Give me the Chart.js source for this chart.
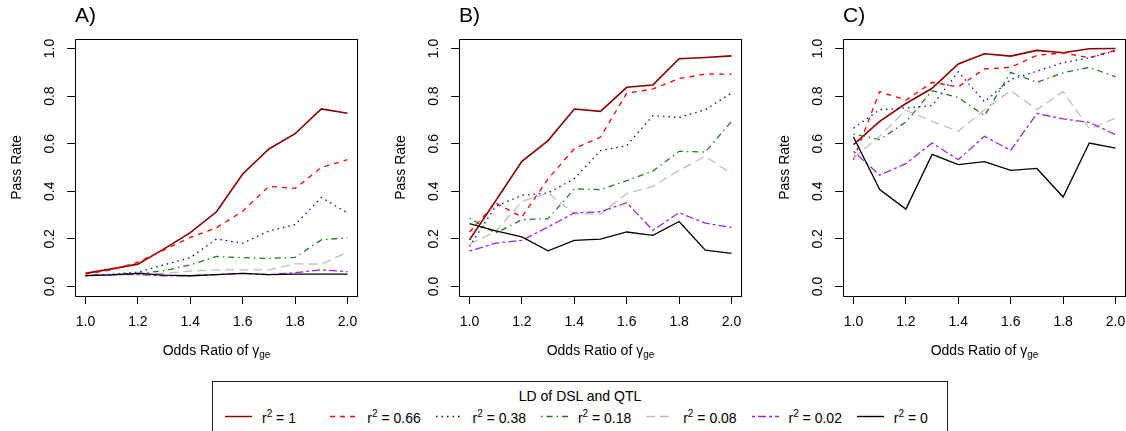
<!DOCTYPE html>
<html>
<head>
<meta charset="utf-8">
<script src="https://cdn.jsdelivr.net/npm/chart.js@4.4.1/dist/chart.umd.min.js"></script>
<style>
  html, body { margin: 0; padding: 0; background: #fff; }
  body { width: 1126px; height: 431px; position: relative; overflow: hidden;
         font-family: "Liberation Sans", Arial, sans-serif; color: #000; }
  .panel { position: absolute; top: 0; width: 360px; height: 370px; }
  .letter { position: absolute; top: 3px; font-size: 21px; line-height: 24px; }
  .xtitle { position: absolute; top: 342px; width: 283px; text-align: center; font-size: 14px; line-height: 16px; white-space: nowrap; }
  .xtitle sub { font-size: 10px; vertical-align: -3px; line-height: 0; }
  #legend { position: absolute; left: 212px; top: 381px; width: 736px; height: 70px;
            border: 1px solid #222; box-sizing: border-box; }
  #legend .ttl { position: absolute; top: 6px; left: 0; width: 100%; text-align: center; font-size: 14px; line-height: 16px; }
  .item { position: absolute; top: 26px; height: 20px; }
  .item svg { position: absolute; left: 0; top: 0; }
  .item span { position: absolute; left: 37px; top: 2px; font-size: 14px; line-height: 16px; white-space: nowrap; }
  .item sup { font-size: 10px; vertical-align: 6px; line-height: 0; }
</style>
</head>
<body>

<div class="panel" style="left:0"><canvas id="chartA"></canvas></div>
<div class="panel" style="left:384px"><canvas id="chartB"></canvas></div>
<div class="panel" style="left:768px"><canvas id="chartC"></canvas></div>

<div class="letter" style="left:75px">A)</div>
<div class="letter" style="left:459px">B)</div>
<div class="letter" style="left:843px">C)</div>

<div class="xtitle" style="left:75px">Odds Ratio of γ<sub>ge</sub></div>
<div class="xtitle" style="left:459px">Odds Ratio of γ<sub>ge</sub></div>
<div class="xtitle" style="left:843px">Odds Ratio of γ<sub>ge</sub></div>

<div id="legend"><div class="ttl">LD of DSL and QTL</div></div>

<script>
// odds ratio of gamma_ge
const oddsRatio = [1.0, 1.1, 1.2, 1.3, 1.4, 1.5, 1.6, 1.7, 1.8, 1.9, 2.0];
const yTicks = [0, 0.2, 0.4, 0.6, 0.8, 1.0];
const xTicks = [1.0, 1.2, 1.4, 1.6, 1.8, 2.0];

const ldLabels = ['1', '0.66', '0.38', '0.18', '0.08', '0.02', '0'];

// panel A
const aR1   = [0.055, 0.074, 0.094, 0.158, 0.226, 0.314, 0.473, 0.578, 0.642, 0.746, 0.728];
const aR066 = [0.052, 0.070, 0.102, 0.154, 0.206, 0.247, 0.316, 0.421, 0.412, 0.500, 0.533];
const aR038 = [0.045, 0.052, 0.060, 0.091, 0.121, 0.200, 0.182, 0.233, 0.260, 0.374, 0.309];
const aR018 = [0.046, 0.050, 0.055, 0.066, 0.091, 0.126, 0.121, 0.118, 0.122, 0.196, 0.205];
const aR008 = [0.045, 0.050, 0.055, 0.055, 0.065, 0.070, 0.070, 0.070, 0.095, 0.094, 0.144];
const aR002 = [0.045, 0.050, 0.050, 0.045, 0.045, 0.050, 0.055, 0.050, 0.058, 0.070, 0.062];
const aR0   = [0.046, 0.049, 0.055, 0.048, 0.045, 0.050, 0.055, 0.050, 0.052, 0.052, 0.052];

// panel B
const bR1   = [0.196, 0.360, 0.526, 0.613, 0.746, 0.736, 0.837, 0.847, 0.957, 0.962, 0.969];
const bR066 = [0.229, 0.351, 0.292, 0.453, 0.579, 0.628, 0.812, 0.830, 0.874, 0.892, 0.892];
const bR038 = [0.168, 0.337, 0.383, 0.393, 0.453, 0.571, 0.592, 0.718, 0.710, 0.743, 0.813];
const bR018 = [0.288, 0.224, 0.281, 0.285, 0.410, 0.407, 0.445, 0.485, 0.568, 0.565, 0.694];
const bR008 = [0.178, 0.231, 0.358, 0.393, 0.306, 0.304, 0.390, 0.421, 0.488, 0.547, 0.474];
const bR002 = [0.149, 0.182, 0.194, 0.250, 0.309, 0.314, 0.352, 0.236, 0.310, 0.266, 0.248];
const bR0   = [0.264, 0.234, 0.208, 0.150, 0.194, 0.199, 0.229, 0.215, 0.273, 0.153, 0.139];

// panel C
const cR1   = [0.596, 0.694, 0.769, 0.833, 0.935, 0.978, 0.968, 0.992, 0.982, 0.999, 1.000];
const cR066 = [0.533, 0.819, 0.783, 0.858, 0.839, 0.914, 0.921, 0.971, 0.982, 0.961, 0.993];
const cR038 = [0.665, 0.743, 0.750, 0.760, 0.902, 0.776, 0.870, 0.905, 0.940, 0.961, 0.989];
const cR018 = [0.641, 0.617, 0.691, 0.823, 0.794, 0.718, 0.900, 0.858, 0.898, 0.921, 0.881];
const cR008 = [0.540, 0.631, 0.741, 0.694, 0.652, 0.743, 0.823, 0.743, 0.819, 0.663, 0.707];
const cR002 = [0.568, 0.468, 0.516, 0.603, 0.533, 0.631, 0.572, 0.727, 0.704, 0.690, 0.638];
const cR0   = [0.628, 0.407, 0.325, 0.555, 0.512, 0.525, 0.488, 0.496, 0.376, 0.603, 0.581];

// line look for each r^2 level, same order as ldLabels
const lineColors = ['#8B0000', '#FF0000', '#0000CD', '#1E7B1E', '#BEBEBE', '#A020F0', '#000000'];
const lineDashes = [[], [5, 5], [1.5, 4], [1.5, 4, 6, 4], [9, 5], [3, 3, 8, 3], []];

Chart.defaults.font.family = '"Liberation Sans", Arial, sans-serif';
Chart.defaults.font.size = 14;
Chart.defaults.color = '#000';

// R style box round the plot region
const boxPlugin = {
  id: 'box',
  afterDraw(chart) {
    const { ctx, chartArea: a } = chart;
    ctx.save();
    ctx.strokeStyle = '#000';
    ctx.lineWidth = 1;
    ctx.strokeRect(Math.round(a.left) + 0.5, Math.round(a.top) + 0.5,
                   Math.round(a.right - a.left) - 1, Math.round(a.bottom - a.top));
    ctx.restore();
  }
};

// no extra room for overhanging tick labels, plot region stays fixed
function noPad(s) {
  s.paddingLeft = 0; s.paddingRight = 0; s.paddingTop = 0; s.paddingBottom = 0;
}

function makePanel(id, series) {
  const datasets = series.map((vals, i) => ({
    label: 'r² = ' + ldLabels[i],
    data: vals.map((v, j) => ({ x: oddsRatio[j], y: v })),
    borderColor: lineColors[i],
    borderDash: lineDashes[i],
    borderWidth: i == 0 ? 1.6 : 1.3,
    pointRadius: 0,
    tension: 0,
    fill: false
  }));

  return new Chart(document.getElementById(id), {
    type: 'line',
    data: { datasets: datasets.reverse() },
    options: {
      responsive: false,
      animation: false,
      events: [],
      layout: { padding: { left: 0, top: 39, right: 2, bottom: 0 } },
      plugins: { legend: { display: false }, tooltip: { enabled: false }, title: { display: false } },
      scales: {
        x: {
          type: 'linear',
          min: 0.96, max: 2.04,
          afterBuildTicks: (s) => { s.ticks = xTicks.map(v => ({ value: v })); },
          afterFit: (s) => { s.height = 74; noPad(s); },
          grid: { drawOnChartArea: false, drawTicks: true, tickLength: 8, color: '#000' },
          border: { display: false },
          ticks: { autoSkip: false, maxRotation: 0, padding: 10, color: '#000',
                   callback: (v) => Number(v).toFixed(1) }
        },
        y: {
          type: 'linear',
          min: -0.04, max: 1.04,
          afterBuildTicks: (s) => { s.ticks = yTicks.map(v => ({ value: v })); },
          afterFit: (s) => { s.width = 75; noPad(s); },
          grid: { drawOnChartArea: false, drawTicks: true, tickLength: 8, color: '#000' },
          border: { display: false },
          ticks: { autoSkip: false, minRotation: 90, maxRotation: 90, crossAlign: 'center',
                   padding: 7, color: '#000', callback: (v) => Number(v).toFixed(1) },
          title: { display: true, text: 'Pass Rate', font: { size: 14 }, padding: { top: 9, bottom: 0 } }
        }
      }
    },
    plugins: [boxPlugin]
  });
}

for (const c of ['chartA', 'chartB', 'chartC']) {
  const el = document.getElementById(c);
  el.width = 360; el.height = 370;
  el.style.width = '360px'; el.style.height = '370px';
}

makePanel('chartA', [aR1, aR066, aR038, aR018, aR008, aR002, aR0]);
makePanel('chartB', [bR1, bR066, bR038, bR018, bR008, bR002, bR0]);
makePanel('chartC', [cR1, cR066, cR038, cR018, cR008, cR002, cR0]);

// legend row
const legend = document.getElementById('legend');
ldLabels.forEach((lab, i) => {
  const item = document.createElement('div');
  item.className = 'item';
  item.style.left = (12 + i * 105.3) + 'px';
  const dash = lineDashes[i].length ? lineDashes[i].join(' ') : 'none';
  item.innerHTML =
    '<svg width="28" height="20"><line x1="0" y1="8.5" x2="27" y2="8.5" stroke="' + lineColors[i] +
    '" stroke-width="1.4" stroke-dasharray="' + dash + '"/></svg>' +
    '<span>r<sup>2</sup> = ' + lab + '</span>';
  legend.appendChild(item);
});
</script>
</body>
</html>
